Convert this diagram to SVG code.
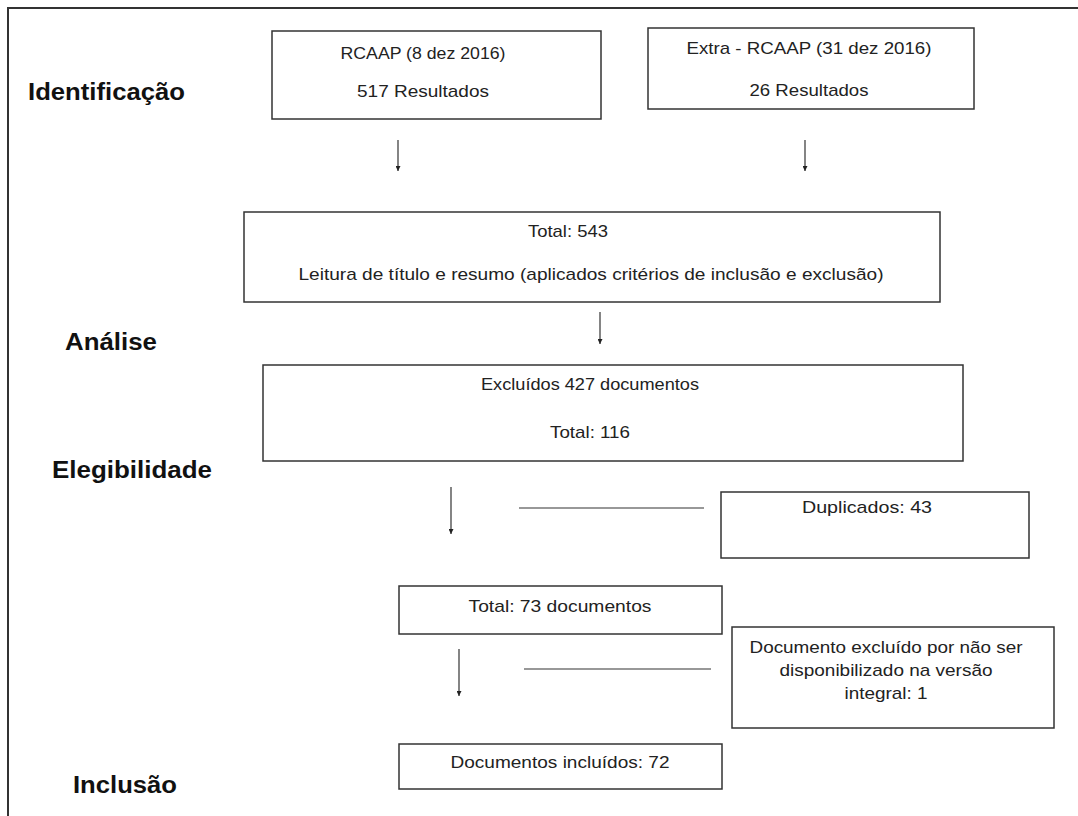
<svg xmlns="http://www.w3.org/2000/svg" width="1078" height="816" viewBox="0 0 1078 816">
<defs>
<style>
.box{fill:#fff;stroke:#333;stroke-width:1.5}
.t{font-family:"Liberation Sans",Arial,sans-serif;font-size:17px;fill:#222;text-anchor:middle}
.lbl{font-family:"Liberation Sans",Arial,sans-serif;font-size:23px;font-weight:bold;fill:#111}
.conn line{stroke:#333;stroke-width:1.2}
.frame{stroke:#333;stroke-width:2;fill:none}
</style>
<marker id="ah" viewBox="0 0 10 10" refX="10" refY="5" markerWidth="6" markerHeight="5" markerUnits="userSpaceOnUse" orient="auto">
<path d="M0,0 L10,5 L0,10 Z" fill="#222"/>
</marker>
</defs>
<rect width="1078" height="816" fill="#fff"/>
<path class="frame" d="M8,816 L8,8 L1078,8"/>

<g id="lbl-identificacao"><text class="lbl" x="28" y="100" textLength="157" lengthAdjust="spacingAndGlyphs">Identificação</text></g>
<g id="lbl-analise"><text class="lbl" x="65" y="350" textLength="92" lengthAdjust="spacingAndGlyphs">Análise</text></g>
<g id="lbl-elegibilidade"><text class="lbl" x="52" y="478" textLength="160" lengthAdjust="spacingAndGlyphs">Elegibilidade</text></g>
<g id="lbl-inclusao"><text class="lbl" x="73" y="793" textLength="104" lengthAdjust="spacingAndGlyphs">Inclusão</text></g>

<g id="n-rcaap"><rect class="box" x="272" y="31" width="329" height="88"/>
<text class="t" x="423" y="59" textLength="165" lengthAdjust="spacingAndGlyphs">RCAAP (8 dez 2016)</text>
<text class="t" x="423" y="97" textLength="132" lengthAdjust="spacingAndGlyphs">517 Resultados</text></g>

<g id="n-extra"><rect class="box" x="648" y="28" width="326" height="81"/>
<text class="t" x="809" y="54" textLength="245" lengthAdjust="spacingAndGlyphs">Extra - RCAAP (31 dez 2016)</text>
<text class="t" x="809" y="96" textLength="119" lengthAdjust="spacingAndGlyphs">26 Resultados</text></g>

<g id="n-total543"><rect class="box" x="244" y="212" width="696" height="90"/>
<text class="t" x="568" y="237" textLength="80" lengthAdjust="spacingAndGlyphs">Total: 543</text>
<text class="t" x="591" y="280" textLength="585" lengthAdjust="spacingAndGlyphs">Leitura de título e resumo (aplicados critérios de inclusão e exclusão)</text></g>

<g id="n-excluidos"><rect class="box" x="263" y="365" width="700" height="96"/>
<text class="t" x="590" y="390" textLength="218" lengthAdjust="spacingAndGlyphs">Excluídos 427 documentos</text>
<text class="t" x="590" y="438" textLength="80" lengthAdjust="spacingAndGlyphs">Total: 116</text></g>

<g id="n-duplicados"><rect class="box" x="721" y="492" width="308" height="66"/>
<text class="t" x="867" y="513" textLength="130" lengthAdjust="spacingAndGlyphs">Duplicados: 43</text></g>

<g id="n-total73"><rect class="box" x="399" y="586" width="323" height="48"/>
<text class="t" x="560" y="612" textLength="183" lengthAdjust="spacingAndGlyphs">Total: 73 documentos</text></g>

<g id="n-docexcl"><rect class="box" x="732" y="627" width="322" height="101"/>
<text class="t" x="886" y="653" textLength="273" lengthAdjust="spacingAndGlyphs">Documento excluído por não ser</text>
<text class="t" x="886" y="676" textLength="213" lengthAdjust="spacingAndGlyphs">disponibilizado na versão</text>
<text class="t" x="886" y="699" textLength="83" lengthAdjust="spacingAndGlyphs">integral: 1</text></g>

<g id="n-docincl"><rect class="box" x="399" y="744" width="323" height="45"/>
<text class="t" x="560" y="768" textLength="219" lengthAdjust="spacingAndGlyphs">Documentos incluídos: 72</text></g>

<g id="connectors" class="conn">
<line x1="398" y1="140" x2="398" y2="171" marker-end="url(#ah)"/>
<line x1="805" y1="140" x2="805" y2="171" marker-end="url(#ah)"/>
<line x1="600" y1="312" x2="600" y2="344" marker-end="url(#ah)"/>
<line x1="451" y1="487" x2="451" y2="534" marker-end="url(#ah)"/>
<line x1="519" y1="508" x2="704" y2="508"/>
<line x1="459" y1="649" x2="459" y2="696" marker-end="url(#ah)"/>
<line x1="524" y1="669" x2="711" y2="669"/>
</g>
</svg>
